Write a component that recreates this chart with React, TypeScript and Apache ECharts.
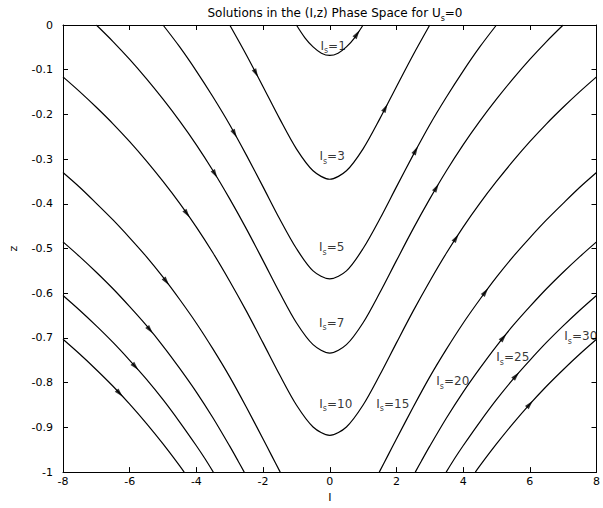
import React, { useEffect, useRef } from "react";
import * as echarts from "echarts";

// ---------- text ----------
const TITLE_MAIN = "Solutions in the (I,z) Phase Space for U";
const TITLE_SUB = "s";
const TITLE_TAIL = "=0";
const X_NAME = "I";
const Y_NAME = "z";

// ---------- axes ----------
const X_MIN = -8;
const X_MAX = 8;
const X_STEP = 2;
const Y_MIN = -1;
const Y_MAX = 0;
const Y_STEP = 0.1;

// ---------- curves (I, z) ----------
const C1_I = [-1, -0.75, -0.5, -0.25, 0, 0.25, 0.5, 0.75, 1];
const C1_Z = [0, -0.028, -0.049, -0.063, -0.068, -0.063, -0.049, -0.028, 0];

const C3_I = [-3, -2.5, -2, -1.5, -1, -0.5, 0, 0.5, 1, 1.5, 2, 2.5, 3];
const C3_Z = [0, -0.067, -0.138, -0.21, -0.277, -0.326, -0.345, -0.326, -0.277, -0.21, -0.138, -0.067, 0];

const C5_I = [-5, -4.5, -4, -3.5, -3, -2.5, -2, -1.5, -1, -0.5, 0, 0.5, 1, 1.5, 2, 2.5, 3, 3.5, 4, 4.5, 5];
const C5_Z = [0, -0.049, -0.103, -0.161, -0.223, -0.291, -0.362, -0.434, -0.5, -0.55, -0.568, -0.55, -0.5, -0.434, -0.362, -0.291, -0.223, -0.161, -0.103, -0.049, 0];

const C7_I = [-7, -6.5, -6, -5.5, -5, -4.5, -4, -3.5, -3, -2.5, -2, -1.5, -1, -0.5, 0, 0.5, 1, 1.5, 2, 2.5, 3, 3.5, 4, 4.5, 5, 5.5, 6, 6.5, 7];
const C7_Z = [0, -0.037, -0.077, -0.12, -0.166, -0.215, -0.268, -0.326, -0.389, -0.456, -0.527, -0.599, -0.666, -0.715, -0.734, -0.715, -0.666, -0.599, -0.527, -0.456, -0.389, -0.326, -0.268, -0.215, -0.166, -0.12, -0.077, -0.037, 0];

const C10_I = [-8, -7.5, -7, -6.5, -6, -5.5, -5, -4.5, -4, -3.5, -3, -2.5, -2, -1.5, -1, -0.5, 0, 0.5, 1, 1.5, 2, 2.5, 3, 3.5, 4, 4.5, 5, 5.5, 6, 6.5, 7, 7.5, 8];
const C10_Z = [-0.116, -0.149, -0.184, -0.221, -0.261, -0.304, -0.35, -0.399, -0.452, -0.51, -0.573, -0.64, -0.711, -0.783, -0.85, -0.899, -0.918, -0.899, -0.85, -0.783, -0.711, -0.64, -0.573, -0.51, -0.452, -0.399, -0.35, -0.304, -0.261, -0.221, -0.184, -0.149, -0.116];

const C15L_I = [-8, -7.5, -7, -6.5, -6, -5.5, -5, -4.5, -4, -3.5, -3, -2.5, -2, -1.75, -1.485];
const C15L_Z = [-0.33, -0.363, -0.399, -0.436, -0.476, -0.518, -0.564, -0.614, -0.667, -0.725, -0.787, -0.855, -0.926, -0.962, -1];
const C15R_I = [1.485, 1.75, 2, 2.5, 3, 3.5, 4, 4.5, 5, 5.5, 6, 6.5, 7, 7.5, 8];
const C15R_Z = [-1, -0.962, -0.926, -0.855, -0.787, -0.725, -0.667, -0.614, -0.564, -0.518, -0.476, -0.436, -0.399, -0.363, -0.33];

const C20L_I = [-8, -7.5, -7, -6.5, -6, -5.5, -5, -4.5, -4, -3.5, -3, -2.75, -2.565];
const C20L_Z = [-0.485, -0.518, -0.553, -0.59, -0.63, -0.672, -0.718, -0.768, -0.821, -0.879, -0.942, -0.975, -1];
const C20R_I = [2.565, 2.75, 3, 3.5, 4, 4.5, 5, 5.5, 6, 6.5, 7, 7.5, 8];
const C20R_Z = [-1, -0.975, -0.942, -0.879, -0.821, -0.768, -0.718, -0.672, -0.63, -0.59, -0.553, -0.518, -0.485];

const C25L_I = [-8, -7.5, -7, -6.5, -6, -5.5, -5, -4.5, -4, -3.75, -3.492];
const C25L_Z = [-0.605, -0.638, -0.673, -0.71, -0.75, -0.792, -0.838, -0.888, -0.941, -0.969, -1];
const C25R_I = [3.492, 3.75, 4, 4.5, 5, 5.5, 6, 6.5, 7, 7.5, 8];
const C25R_Z = [-1, -0.969, -0.941, -0.888, -0.838, -0.792, -0.75, -0.71, -0.673, -0.638, -0.605];

const C30L_I = [-8, -7.5, -7, -6.5, -6, -5.5, -5, -4.5, -4.366];
const C30L_Z = [-0.703, -0.736, -0.771, -0.808, -0.848, -0.891, -0.937, -0.986, -1];
const C30R_I = [4.366, 4.5, 5, 5.5, 6, 6.5, 7, 7.5, 8];
const C30R_Z = [-1, -0.986, -0.937, -0.891, -0.848, -0.808, -0.771, -0.736, -0.703];

// I_s value of each curve
const IS_VALUES = [1, 3, 5, 7, 10, 15, 20, 25, 30];

// I positions of the direction arrows on each curve
const ARROWS_I = [
  [0.82],
  [-2.21, 1.67],
  [-2.85, 2.58],
  [-3.44, 3.2],
  [-4.28, 3.79],
  [-4.9, 4.67],
  [-5.39, 5.21],
  [-5.83, 5.59],
  [-6.3, 6.0],
];

// where each "I_s=.." label sits (data coordinates)
const LABEL_I = [0.1, 0.07, 0.06, 0.06, 0.18, 1.89, 3.69, 5.49, 7.53];
const LABEL_Z = [-0.05, -0.297, -0.5, -0.669, -0.85, -0.85, -0.8, -0.747, -0.7];

const CURVES: { I: number[]; Z: number[] }[][] = [
  [{ I: C1_I, Z: C1_Z }],
  [{ I: C3_I, Z: C3_Z }],
  [{ I: C5_I, Z: C5_Z }],
  [{ I: C7_I, Z: C7_Z }],
  [{ I: C10_I, Z: C10_Z }],
  [{ I: C15L_I, Z: C15L_Z }, { I: C15R_I, Z: C15R_Z }],
  [{ I: C20L_I, Z: C20L_Z }, { I: C20R_I, Z: C20R_Z }],
  [{ I: C25L_I, Z: C25L_Z }, { I: C25R_I, Z: C25R_Z }],
  [{ I: C30L_I, Z: C30L_Z }, { I: C30R_I, Z: C30R_Z }],
];

const FONT = "DejaVu Sans";
const ARROW_PATH = "path://M0,0 L4,12 L-4,12 Z";

const RICH = {
  a: { fontFamily: FONT, fontSize: 12, color: "#000", lineHeight: 12, verticalAlign: "top", fontWeight: "normal" },
  b: { fontFamily: FONT, fontSize: 8, color: "#000", lineHeight: 15, verticalAlign: "bottom", fontWeight: "normal" },
};

function findSegment(branches: { I: number[]; Z: number[] }[], a: number) {
  for (const b of branches) {
    for (let j = 0; j < b.I.length - 1; j++) {
      if (a >= b.I[j] && a <= b.I[j + 1]) {
        const t = (a - b.I[j]) / (b.I[j + 1] - b.I[j]);
        return {
          z: b.Z[j] + t * (b.Z[j + 1] - b.Z[j]),
          p1: [b.I[j], b.Z[j]],
          p2: [b.I[j + 1], b.Z[j + 1]],
        };
      }
    }
  }
  return null;
}

export default function App() {
  const ref = useRef<HTMLDivElement>(null);
  useEffect(() => {
    if (!ref.current) return;
    const chart = echarts.init(ref.current, undefined, { renderer: "svg" });

    const lineSeries: any[] = [];
    CURVES.forEach((branches, ci) => {
      branches.forEach((b, bi) => {
        lineSeries.push({
          type: "line",
          name: "Is" + IS_VALUES[ci] + "_" + bi,
          data: b.I.map((v, k) => [v, b.Z[k]]),
          showSymbol: false,
          symbol: "none",
          smooth: 0.3,
          clip: true,
          lineStyle: { color: "#000", width: 1.2 },
          silent: true,
          z: 2,
        });
      });
    });

    const arrowItems: any[] = [];
    ARROWS_I.forEach((list, ci) => {
      list.forEach((a) => {
        const seg = findSegment(CURVES[ci], a);
        if (seg) arrowItems.push({ value: [a, seg.z], seg });
      });
    });

    const labelData = IS_VALUES.map((v, k) => ({ value: [LABEL_I[k], LABEL_Z[k]], is: v }));

    const axisCommon = {
      type: "value",
      axisLine: { show: true, onZero: false, lineStyle: { color: "#000", width: 1 } },
      axisTick: { show: true, inside: true, length: 5, lineStyle: { color: "#000", width: 1 } },
      splitLine: { show: false },
    };

    const option: any = {
      animation: false,
      backgroundColor: "#fff",
      title: {
        text: `{a|${TITLE_MAIN}}{b|${TITLE_SUB}}{a|${TITLE_TAIL}}`,
        left: 330,
        top: 2,
        textAlign: "center",
        textStyle: { fontWeight: "normal", rich: RICH },
      },
      grid: { left: 59, right: 2, top: 25, bottom: 23, containLabel: false },
      xAxis: [
        {
          ...axisCommon,
          min: X_MIN,
          max: X_MAX,
          interval: X_STEP,
          position: "bottom",
          axisLabel: { color: "#000", fontSize: 11, fontFamily: FONT, margin: 4 },
          name: X_NAME,
          nameLocation: "middle",
          nameGap: 19,
          nameTextStyle: { color: "#000", fontSize: 11, fontFamily: FONT },
        },
        {
          ...axisCommon,
          min: X_MIN,
          max: X_MAX,
          interval: X_STEP,
          position: "top",
          axisLabel: { show: false },
        },
      ],
      yAxis: [
        {
          ...axisCommon,
          min: Y_MIN,
          max: Y_MAX,
          interval: Y_STEP,
          position: "left",
          axisLabel: {
            color: "#000",
            fontSize: 11,
            fontFamily: FONT,
            margin: 10,
            formatter: (v: number) => String(Math.round(v * 10) / 10),
          },
          name: Y_NAME,
          nameLocation: "middle",
          nameGap: 44,
          nameRotate: 90,
          nameTextStyle: { color: "#000", fontSize: 11, fontFamily: FONT },
        },
        {
          ...axisCommon,
          min: Y_MIN,
          max: Y_MAX,
          interval: Y_STEP,
          position: "right",
          axisLabel: { show: false },
        },
      ],
      series: [
        ...lineSeries,
        {
          id: "arrows",
          type: "scatter",
          data: arrowItems.map((d) => ({ value: d.value })),
          symbol: ARROW_PATH,
          symbolSize: [5, 9],
          itemStyle: { color: "#000" },
          silent: true,
          z: 3,
        },
        {
          id: "labels",
          type: "scatter",
          data: labelData.map((d) => ({ value: d.value, is: d.is })),
          symbolSize: 0,
          itemStyle: { color: "transparent" },
          silent: true,
          label: {
            show: true,
            position: "inside",
            formatter: (p: any) => `{a|I}{b|s}{a|=${p.data.is}}`,
            rich: RICH,
          },
          z: 4,
        },
      ],
    };

    chart.setOption(option);

    const rotated = arrowItems.map((d) => {
      const p1 = chart.convertToPixel({ xAxisIndex: 0, yAxisIndex: 0 }, d.seg.p1) as number[];
      const p2 = chart.convertToPixel({ xAxisIndex: 0, yAxisIndex: 0 }, d.seg.p2) as number[];
      const ang = (Math.atan2(-(p2[1] - p1[1]), p2[0] - p1[0]) * 180) / Math.PI;
      return { value: d.value, symbolRotate: ang - 90 };
    });
    chart.setOption({ series: [{ id: "arrows", data: rotated }] });

    return () => chart.dispose();
  }, []);

  return (
    <div
      ref={ref}
      style={{ position: "fixed", left: 0, top: 0, width: 603, height: 508, background: "#fff" }}
    />
  );
}
